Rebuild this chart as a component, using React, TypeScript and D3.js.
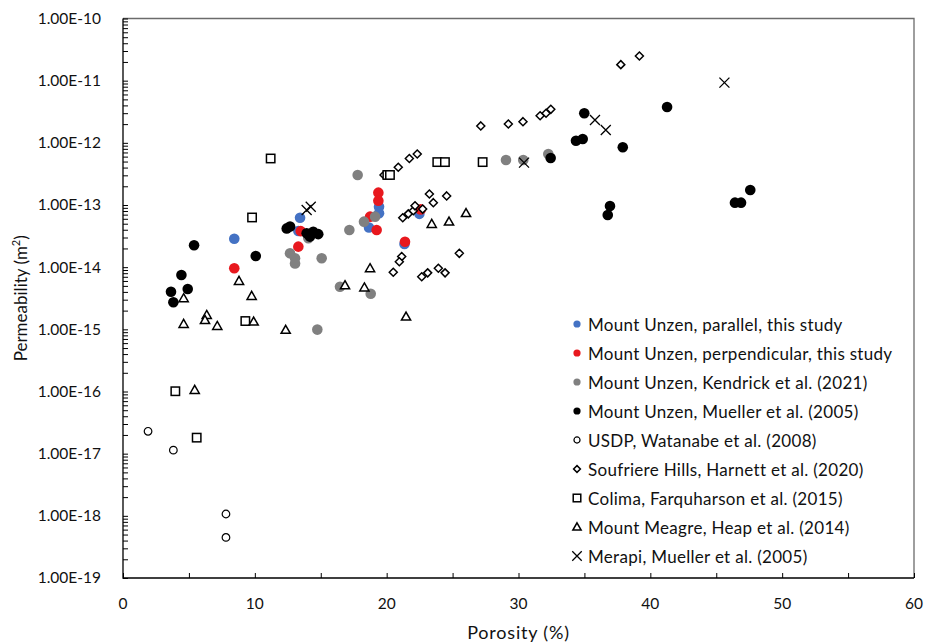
import React, { useEffect, useRef } from 'react';
import * as d3 from 'd3';

// porosity (%) / permeability (m2)
const parallelPhi = [8.44, 13.43, 13.3, 18.66, 19.42, 19.42, 21.35, 22.48];
const parallelK = [2.87e-14, 6.25e-14, 3.82e-14, 4.35e-14, 9.4e-14, 7.4e-14, 2.36e-14, 7.2e-14];

const perpPhi = [8.44, 13.48, 13.3, 19.37, 19.37, 18.74, 19.24, 21.39, 22.58];
const perpK = [9.6e-15, 3.8e-14, 2.14e-14, 1.58e-13, 1.17e-13, 6.5e-14, 3.96e-14, 2.57e-14, 8.5e-14];

const kendrickPhi = [12.67, 13.05, 13.05, 15.07, 14.06, 17.8, 18.28, 19.12, 17.17, 16.46, 18.79, 14.74, 29.05, 30.36, 32.26];
const kendrickK = [1.67e-14, 1.39e-14, 1.15e-14, 1.39e-14, 2.92e-14, 3.04e-13, 5.4e-14, 6.5e-14, 3.96e-14, 4.85e-15, 3.74e-15, 9.9e-16, 5.3e-13, 5.3e-13, 6.6e-13];

const unzenMuellerPhi = [5.39, 10.07, 4.43, 4.91, 3.64, 3.82, 12.42, 12.67, 13.93, 14.18, 14.43, 14.81, 32.44, 34.99, 34.36, 34.87, 37.91, 41.27, 36.94, 36.77, 46.42, 46.88, 47.58];
const unzenMuellerK = [2.25e-14, 1.51e-14, 7.5e-15, 4.45e-15, 4.03e-15, 2.72e-15, 4.2e-14, 4.5e-14, 3.5e-14, 3.1e-14, 3.7e-14, 3.4e-14, 5.7e-13, 2.99e-12, 1.08e-12, 1.15e-12, 8.5e-13, 3.77e-12, 9.6e-14, 6.9e-14, 1.09e-13, 1.09e-13, 1.74e-13];

const usdpPhi = [1.9, 3.82, 7.81, 7.81];
const usdpK = [2.29e-17, 1.14e-17, 1.07e-18, 4.5e-19];

const soufrierePhi = [19.8, 20.88, 21.72, 22.32, 21.22, 21.64, 22.02, 22.15, 22.73, 23.24, 24.55, 23.54, 21.14, 20.96, 20.5, 22.66, 23.11, 23.92, 24.43, 25.51, 27.14, 29.23, 30.34, 31.64, 32.09, 32.45, 37.76, 39.17];
const soufriereK = [3.04e-13, 4.05e-13, 5.6e-13, 6.6e-13, 6.25e-14, 7.2e-14, 8.1e-14, 9.7e-14, 8.6e-14, 1.5e-13, 1.4e-13, 1.09e-13, 1.48e-14, 1.22e-14, 8.3e-15, 7.0e-15, 8.1e-15, 9.6e-15, 8.1e-15, 1.67e-14, 1.87e-12, 2.01e-12, 2.19e-12, 2.73e-12, 2.99e-12, 3.46e-12, 1.81e-11, 2.49e-11];

const colimaPhi = [3.97, 5.59, 9.28, 9.79, 11.2, 20.05, 20.25, 23.84, 24.42, 27.28];
const colimaK = [1.01e-16, 1.81e-17, 1.36e-15, 6.3e-14, 5.6e-13, 3.04e-13, 3.04e-13, 4.9e-13, 4.9e-13, 4.9e-13];

const meagrePhi = [4.6, 8.8, 9.76, 4.6, 6.35, 6.22, 7.15, 9.91, 12.34, 16.84, 18.74, 18.31, 21.47, 23.42, 24.73, 26.02, 5.44];
const meagreK = [3.16e-15, 6.0e-15, 3.44e-15, 1.22e-15, 1.7e-15, 1.41e-15, 1.13e-15, 1.33e-15, 9.8e-16, 5.1e-15, 9.6e-15, 4.7e-15, 1.6e-15, 4.95e-14, 5.4e-14, 7.4e-14, 1.06e-16];

const merapiPhi = [13.93, 14.24, 30.42, 35.8, 36.62, 45.62];
const merapiK = [8.3e-14, 9.4e-14, 4.8e-13, 2.33e-12, 1.61e-12, 9.3e-12];

const legendLabels = [
  'Mount Unzen, parallel, this study',
  'Mount Unzen, perpendicular, this study',
  'Mount Unzen, Kendrick et al. (2021)',
  'Mount Unzen, Mueller et al. (2005)',
  'USDP, Watanabe et al. (2008)',
  'Soufriere Hills, Harnett et al. (2020)',
  'Colima, Farquharson et al. (2015)',
  'Mount Meagre, Heap et al. (2014)',
  'Merapi, Mueller et al. (2005)',
];

const xTickValues = [0, 10, 20, 30, 40, 50, 60];
const yTickValues = [1e-19, 1e-18, 1e-17, 1e-16, 1e-15, 1e-14, 1e-13, 1e-12, 1e-11, 1e-10];
const yTickLabels = ['1.00E-19', '1.00E-18', '1.00E-17', '1.00E-16', '1.00E-15', '1.00E-14', '1.00E-13', '1.00E-12', '1.00E-11', '1.00E-10'];

type Shape = 'dot' | 'ring' | 'diamond' | 'square' | 'triangle' | 'cross';

const series: { phi: number[]; k: number[]; shape: Shape; color: string }[] = [
  { phi: parallelPhi, k: parallelK, shape: 'dot', color: '#4472c4' },
  { phi: perpPhi, k: perpK, shape: 'dot', color: '#e8181e' },
  { phi: kendrickPhi, k: kendrickK, shape: 'dot', color: '#808080' },
  { phi: unzenMuellerPhi, k: unzenMuellerK, shape: 'dot', color: '#000000' },
  { phi: usdpPhi, k: usdpK, shape: 'ring', color: '#000000' },
  { phi: soufrierePhi, k: soufriereK, shape: 'diamond', color: '#000000' },
  { phi: colimaPhi, k: colimaK, shape: 'square', color: '#000000' },
  { phi: meagrePhi, k: meagreK, shape: 'triangle', color: '#000000' },
  { phi: merapiPhi, k: merapiK, shape: 'cross', color: '#000000' },
];

const FONT = 'Lato, "Open Sans", sans-serif';
const INK = '#111111';

function drawMarker(g: d3.Selection<SVGGElement, unknown, null, undefined>, shape: Shape, color: string, s: number) {
  // s = scale factor, 1 for plot, smaller for legend
  if (shape === 'dot') {
    g.append('circle').attr('r', 5.3 * s).attr('fill', color);
  } else if (shape === 'ring') {
    g.append('circle').attr('r', 3.8 * s).attr('fill', 'white').attr('stroke', color).attr('stroke-width', 1.2);
  } else if (shape === 'diamond') {
    const h = 4 * s;
    g.append('path').attr('d', `M0,${-h}L${h},0L0,${h}L${-h},0Z`).attr('fill', 'white').attr('stroke', color).attr('stroke-width', 1.5);
  } else if (shape === 'square') {
    const h = 4.2 * s;
    g.append('rect').attr('x', -h).attr('y', -h).attr('width', 2 * h).attr('height', 2 * h).attr('fill', 'white').attr('stroke', color).attr('stroke-width', 1.5);
  } else if (shape === 'triangle') {
    const w = 4.6 * s;
    g.append('path').attr('d', `M0,${-w}L${w},${w * 0.75}L${-w},${w * 0.75}Z`).attr('fill', 'white').attr('stroke', color).attr('stroke-width', 1.5);
  } else {
    const h = 5 * s;
    g.append('path').attr('d', `M${-h},${-h}L${h},${h}M${-h},${h}L${h},${-h}`).attr('stroke', color).attr('stroke-width', 1.3);
  }
}

export default function App() {
  const ref = useRef<SVGSVGElement>(null);

  useEffect(() => {
    const svg = d3.select(ref.current);
    svg.selectAll('*').remove();

    const left = 123, right = 914, top = 18.5, bottom = 578;

    const x = d3.scaleLinear().domain([0, 60]).range([left, right]);
    const y = d3.scaleLog().domain([1e-19, 1e-10]).range([bottom, top]);

    svg.append('rect').attr('width', 929).attr('height', 644).attr('fill', 'white');

    // frame top / right
    svg.append('path')
      .attr('d', `M${left},${top}H${right}V${bottom}`)
      .attr('fill', 'none').attr('stroke', '#6b6b6b').attr('stroke-width', 1.3);

    // y axis, ticks inside
    const yAxis = d3.axisRight(y).tickValues(y.ticks()).tickSize(5).tickFormat(() => '');
    const gy = svg.append('g').attr('transform', `translate(${left},0)`).call(yAxis);
    gy.select('.domain').remove();
    gy.selectAll('line').attr('stroke', '#000').attr('stroke-width', 1);

    svg.append('g').selectAll('text').data(yTickValues).join('text')
      .attr('x', 101).attr('y', d => y(d)).attr('dy', '0.35em')
      .attr('text-anchor', 'end').attr('font-family', FONT).attr('font-size', 15.5).attr('fill', INK)
      .text((d, i) => yTickLabels[i]);

    // x axis, ticks inside
    const xAxis = d3.axisTop(x).tickValues(d3.range(0, 61, 5)).tickSize(5).tickFormat(() => '');
    const gx = svg.append('g').attr('transform', `translate(0,${bottom})`).call(xAxis);
    gx.select('.domain').remove();
    gx.selectAll('line').attr('stroke', '#000').attr('stroke-width', 1);

    svg.append('g').selectAll('text').data(xTickValues).join('text')
      .attr('x', d => x(d)).attr('y', 604).attr('dy', '0.35em')
      .attr('text-anchor', 'middle').attr('font-family', FONT).attr('font-size', 15.5).attr('fill', INK)
      .text(d => String(d));

    // axis lines
    svg.append('path').attr('d', `M${left},${top}V${bottom}H${right}`)
      .attr('fill', 'none').attr('stroke', '#000').attr('stroke-width', 1.3);

    // titles
    svg.append('text').attr('x', (left + right) / 2).attr('y', 633).attr('dy', '0.35em')
      .attr('text-anchor', 'middle').attr('font-family', FONT).attr('font-size', 18)
      .attr('letter-spacing', 0.8).attr('fill', INK)
      .text('Porosity (%)');

    const yt = svg.append('text').attr('transform', `translate(21,${(top + bottom) / 2}) rotate(-90)`)
      .attr('dy', '0.35em').attr('text-anchor', 'middle').attr('font-family', FONT).attr('font-size', 17).attr('fill', INK);
    yt.append('tspan').text('Permeability (m');
    yt.append('tspan').attr('font-size', 11).attr('dy', '-0.6em').text('2');
    yt.append('tspan').attr('dy', '0.4em').text(')');

    // points
    series.forEach(s => {
      const g = svg.append('g');
      s.phi.forEach((p, i) => {
        const m = g.append('g').attr('transform', `translate(${x(p)},${y(s.k[i])})`);
        drawMarker(m, s.shape, s.color, 1);
      });
    });

    // legend
    const lg = svg.append('g');
    const legendScales = [0.68, 0.68, 0.68, 0.68, 0.8, 0.85, 0.9, 0.9, 0.95];
    legendLabels.forEach((label, i) => {
      const ly = 325 + i * 29;
      const m = lg.append('g').attr('transform', `translate(577,${ly - 1})`);
      drawMarker(m, series[i].shape, series[i].color, legendScales[i]);
      lg.append('text').attr('x', 588).attr('y', ly).attr('dy', '0.35em')
        .attr('font-family', FONT).attr('font-size', 17).attr('letter-spacing', 0.3).attr('fill', INK)
        .text(label);
    });
  }, []);

  return (
    <svg
      ref={ref}
      width={929}
      height={644}
      style={{ position: 'absolute', left: 0, top: 0, display: 'block' }}
    />
  );
}
